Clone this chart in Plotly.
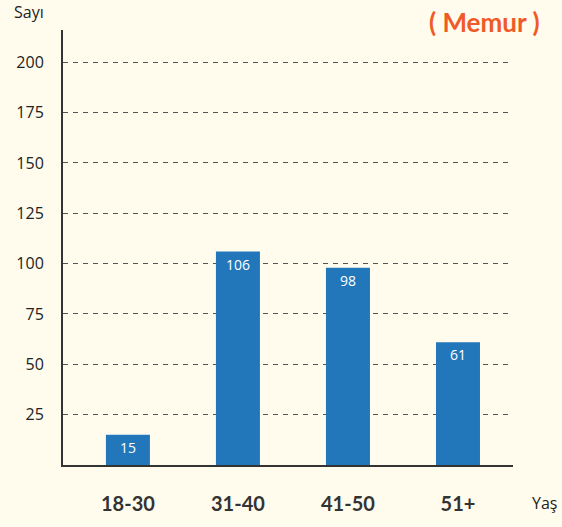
import plotly.graph_objects as go

# veriler
yas_gruplari = ["18-30", "31-40", "41-50", "51+"]
sayilar = [15, 106, 98, 61]
y_tikler = [25, 50, 75, 100, 125, 150, 175, 200]

bg = "#FFFCEE"
bar_renk = "#2277BB"

fig = go.Figure()
fig.add_trace(go.Bar(
    x=list(range(len(yas_gruplari))), y=sayilar, width=0.4,
    marker_color=bar_renk, marker_line_width=0,
    text=[str(s) for s in sayilar], textposition="inside", insidetextanchor="end",
    textfont=dict(color="white", size=14, family="Open Sans"),
    textangle=0, cliponaxis=False,
))

fig.update_layout(
    width=562, height=527,
    paper_bgcolor=bg, plot_bgcolor=bg,
    margin=dict(l=63, r=49, t=30, b=60),
    showlegend=False,
    font=dict(family="Open Sans", color="#333333"),
    xaxis=dict(
        range=[-0.59, 3.5], tickmode="array",
        tickvals=list(range(len(yas_gruplari))), ticktext=yas_gruplari,
        tickfont=dict(size=20, family="Lato", weight="bold", color="#333333"),
        showgrid=False, zeroline=False, showline=True, linecolor="#333333", linewidth=2,
        ticks="", ticklabelstandoff=20,
    ),
    yaxis=dict(
        range=[0, 216], tickmode="array", tickvals=y_tikler,
        tickfont=dict(size=16, family="Open Sans", color="#222222"),
        showgrid=True, gridcolor="#555555", griddash="5px,5px", gridwidth=1,
        zeroline=False, showline=True, linecolor="#333333", linewidth=2,
        ticks="", ticklabelstandoff=14,
    ),
    annotations=[
        dict(text="Sayı", xref="paper", yref="paper", x=-0.075, y=1.041,
             xanchor="center", yanchor="middle", showarrow=False,
             font=dict(size=16, family="Open Sans", color="#222222")),
        dict(text="Yaş", xref="paper", yref="paper", x=1.071, y=-0.087,
             xanchor="center", yanchor="middle", showarrow=False,
             font=dict(size=16, family="Open Sans", color="#222222")),
        dict(text="<b>( Memur )</b>", xref="paper", yref="paper", x=1.064, y=1.018,
             xanchor="right", yanchor="middle", showarrow=False,
             font=dict(size=26, family="Lato", color="#F05A28")),
    ],
)

fig.write_html(
    "out.html",
    config={"displayModeBar": False},
    post_script="document.body.style.margin='0';document.body.style.overflow='hidden';",
)
